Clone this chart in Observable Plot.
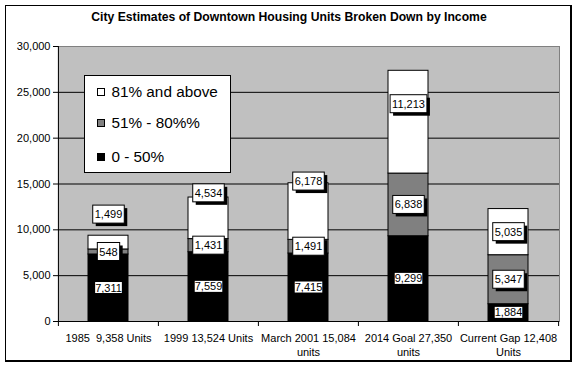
<!DOCTYPE html>
<html>
<head>
<meta charset="utf-8">
<script src="https://cdn.jsdelivr.net/npm/d3@7"></script>
<script src="https://cdn.jsdelivr.net/npm/@observablehq/plot@0.6"></script>
<style>
  body { margin: 0; background: #fff; font-family: "Liberation Sans", Arial, sans-serif; }
  #wrap { position: relative; width: 578px; height: 368px; overflow: hidden; }
  #wrap svg { position: absolute; left: 0; top: 0; }
  #border { position: absolute; left: 5px; top: 5px; width: 567px; height: 357px; box-sizing: border-box;
            border: 1px solid #000; border-right-width: 2px; border-bottom-width: 2px; pointer-events: none; }
  #title { position: absolute; left: 0; top: 11px; width: 578px; text-align: center;
           font: bold 12.2px/12px "Liberation Sans", Arial, sans-serif; color: #000; }
  #legend { position: absolute; left: 84px; top: 75px; width: 147px; height: 98px; box-sizing: border-box;
            border: 1px solid #000; background: #fff; }
  .item { position: absolute; left: 11.5px; height: 18px; display: flex; align-items: center;
          font: 15.3px/18px "Liberation Sans", Arial, sans-serif; color: #000; white-space: nowrap; }
  .sw { width: 8px; height: 8px; box-sizing: border-box; border: 1px solid #000; margin-right: 7px; }
</style>
</head>
<body>
<div id="wrap">
  <div id="title">City Estimates of Downtown Housing Units Broken Down by Income</div>
  <div id="legend"></div>
  <div id="border"></div>
</div>
<script>
// ---- data ----
const categories = [
  "1985\u00a0 9,358 Units",
  "1999 13,524 Units",
  "March 2001 15,084\nunits",
  "2014 Goal 27,350\nunits",
  "Current Gap 12,408\nUnits"
];
const series = ["0 - 50%", "51% - 80%%", "81% and above"];
const low  = [7311, 7559, 7415, 9299, 1884];
const mid  = [548, 1431, 1491, 6838, 5347];
const high = [1499, 4534, 6178, 11213, 5035];
const yTicks = [0, 5000, 10000, 15000, 20000, 25000, 30000];
const colors = ["#000000", "#808080", "#ffffff"];

// ---- build table ----
const fmt = d3.format(",");
const valuesBySeries = [low, mid, high];
const rows = [];
categories.forEach((cat, i) => {
  let acc = 0;
  series.forEach((s, k) => {
    const v = valuesBySeries[k][i];
    rows.push({cat, series: s, value: v, y1: acc, y2: acc + v, ymid: acc + v / 2, label: fmt(v)});
    acc += v;
  });
});

const W = 578, H = 368, mL = 58, mR = 19, mT = 46, mB = 47;
const step = (W - mL - mR) / categories.length;
// pixel nudges of the top-series labels, as placed in the original chart
const topNudge = [-28, -25, -30, -18, 0];

const svg = Plot.plot({
  width: W, height: H,
  marginLeft: mL, marginRight: mR, marginTop: mT, marginBottom: mB,
  style: {fontFamily: "'Liberation Sans', Arial, sans-serif", fontSize: "11px", color: "#000", background: "transparent"},
  x: {type: "band", domain: categories, paddingInner: 0.6, paddingOuter: 0.3, label: null},
  y: {domain: [0, 30000], label: null},
  color: {domain: series, range: colors},
  marks: [
    Plot.frame({fill: "#c0c0c0", stroke: "#808080"}),
    Plot.ruleY(yTicks.filter(d => d > 0 && d < 30000), {stroke: "#000"}),
    Plot.barY(rows, {x: "cat", y: "value", fill: "series", stroke: "#000", strokeWidth: 1}),
    Plot.ruleY([0], {stroke: "#000"}),
    Plot.ruleX([categories[0]], {dx: -step / 2, stroke: "#000"}),
    Plot.axisY({ticks: yTicks, tickSize: 5, tickPadding: 3, tickFormat: fmt, fontSize: 11}),
    Plot.axisX({tickSize: 0, tickPadding: 11, fontSize: 11, lineHeight: 1.25}),
    Plot.axisX({tickSize: 5, tickFormat: () => "", dx: -step / 2}),
    Plot.axisX({ticks: [categories[categories.length - 1]], tickSize: 5, tickFormat: () => "", dx: step / 2}),
    Plot.text(rows.filter(r => r.series !== series[2]),
      {x: "cat", y: "ymid", text: "label", fontSize: 11, fill: "#000"}),
    ...categories.map((c, i) => Plot.text(rows.filter(r => r.series === series[2] && r.cat === c),
      {x: "cat", y: "ymid", text: "label", fontSize: 11, fill: "#000", dy: topNudge[i]}))
  ]
});

const wrap = document.getElementById("wrap");
wrap.insertBefore(svg, document.getElementById("legend"));

// label boxes (white background, border and drop shadow like the original)
const plainSet = new Set(rows.filter(r => r.series === series[0]).map(r => r.label));
const boxSet = new Set(rows.filter(r => r.series !== series[0]).map(r => r.label));
const NS = "http://www.w3.org/2000/svg";
function addRect(t, x, y, w, h, fill, stroke) {
  const r = document.createElementNS(NS, "rect");
  r.setAttribute("x", x); r.setAttribute("y", y);
  r.setAttribute("width", w); r.setAttribute("height", h);
  r.setAttribute("fill", fill);
  r.setAttribute("stroke", stroke);
  r.setAttribute("stroke-width", 1);
  const tr = t.getAttribute("transform");
  if (tr) r.setAttribute("transform", tr);
  t.parentNode.insertBefore(r, t);
}
Array.from(svg.querySelectorAll("text")).forEach(t => {
  const g = t.parentNode;
  const al = (g.getAttribute && g.getAttribute("aria-label")) || "";
  if (al.includes("axis")) return;
  const s = t.textContent;
  const b = t.getBBox();
  if (boxSet.has(s)) {
    const px = 2, py = 3;
    addRect(t, b.x - px + 3, b.y - py + 3, b.width + 2 * px, b.height + 2 * py, "#000", "none");
    addRect(t, b.x - px, b.y - py, b.width + 2 * px, b.height + 2 * py, "#fff", "#000");
  } else if (plainSet.has(s)) {
    addRect(t, b.x, b.y + 0.5, b.width, b.height - 1, "#fff", "none");
  }
});

// legend
const legend = document.getElementById("legend");
const rowTops = [17, 48, 81.5];
series.slice().reverse().forEach((s, j) => {
  const k = series.indexOf(s);
  const it = document.createElement("div");
  it.className = "item";
  it.style.top = (rowTops[j] - 9 - 1) + "px";
  const sw = document.createElement("div");
  sw.className = "sw";
  sw.style.background = colors[k];
  const tx = document.createElement("span");
  tx.textContent = s;
  it.appendChild(sw); it.appendChild(tx);
  legend.appendChild(it);
});
</script>
</body>
</html>
